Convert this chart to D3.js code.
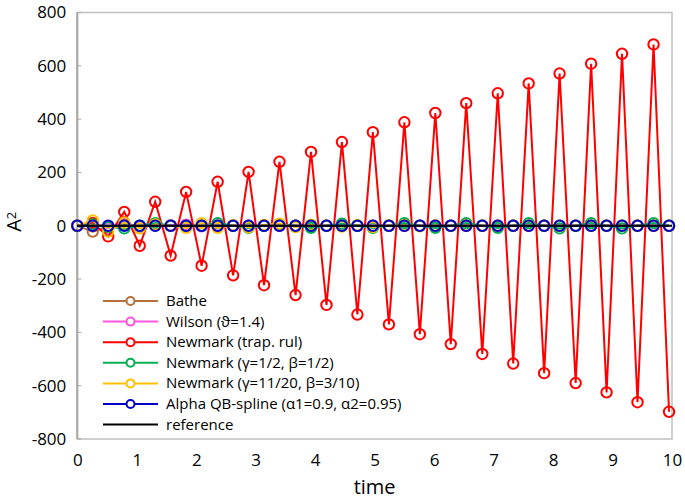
<!DOCTYPE html>
<html><head><meta charset="utf-8">
<script src="https://cdn.jsdelivr.net/npm/d3@7"></script>
<style>body{margin:0;background:#fff}svg{display:block}</style>
</head><body><svg id="c" width="685" height="503"></svg>
<script>
const time = [0,0.26,0.52,0.79,1.05,1.31,1.57,1.83,2.09,2.36,2.62,2.88,3.14,3.40,3.67,3.93,4.19,4.45,4.71,4.97,5.24,5.50,5.76,6.02,6.28,6.54,6.81,7.07,7.33,7.59,7.85,8.11,8.38,8.64,8.90,9.16,9.42,9.69,9.95];
const bathe = [0,-22,-4,3,-1,1,0,0,0,0,0,0,0,0,0,0,0,0,0,0,0,0,0,0,0,0,0,0,0,0,0,0,0,0,0,0,0,0,0];
const wilson = [0,10,-8,10,-4,4,2,4,-2,1,0,0,0,0,0,0,0,0,0,0,0,0,0,0,0,0,0,0,0,0,0,0,0,0,0,0,0,0,0];
const newmarkTrap = [0,10,-40,52,-75,90,-112,127,-150,165,-186,202,-223,240,-260,277,-297,314,-333,351,-370,388,-407,423,-444,460,-481,497,-517,534,-553,571,-590,608,-625,645,-662,680,-698];
const newmarkHalf = [0,5,-5,-10,0,10,0,-3,0,10,0,-8,0,5,0,-8,0,8,0,-8,0,10,0,-8,0,10,0,-8,0,10,0,-10,0,10,0,-10,0,10,0];
const newmark1120 = [0,20,-22,12,-10,5,0,-8,10,-8,2,-6,3,8,-5,4,0,-3,2,-5,1,2,-2,1,-1,1,0,0,0,0,0,0,0,0,0,0,0,0,0];
const alphaQB = [0,0,0,0,0,0,0,0,0,0,0,0,0,0,0,0,0,0,0,0,0,0,0,0,0,0,0,0,0,0,0,0,0,0,0,0,0,0,0];
const refTime = [0,10];
const refVals = [0,0];
const xTicks = [0,1,2,3,4,5,6,7,8,9,10];
const yTicks = [-800,-600,-400,-200,0,200,400,600,800];
const seriesNames = ["Bathe","Wilson (\u03D1=1.4)","Newmark (trap. rul)","Newmark (\u03B3=1/2, \u03B2=1/2)","Newmark (\u03B3=11/20, \u03B2=3/10)","Alpha QB-spline (\u03B11=0.9, \u03B12=0.95)","reference"];
const seriesColors = ["#b5703c","#ff55dd","#ff0000","#00b050","#ffc000","#0000c8","#000000"];

const svg = d3.select("#c");
const x = d3.scaleLinear().domain([0,10]).range([77.3,672]);
const y = d3.scaleLinear().domain([-800,800]).range([439,12.5]);
const font = "'Open Sans', sans-serif";

// plot border
svg.append("rect").attr("x",x(0)).attr("y",y(800)).attr("width",x(10)-x(0)).attr("height",y(-800)-y(800))
  .attr("fill","none").attr("stroke","#c0c0c0").attr("stroke-width",1.5);
svg.append("line").attr("x1",x(0)).attr("x2",x(0)).attr("y1",y(800)).attr("y2",y(-800)).attr("stroke","#a6a6a6").attr("stroke-width",2);

// y axis
const yAx = svg.append("g").attr("transform",`translate(${x(0)},0)`).call(d3.axisLeft(y).tickValues(yTicks).tickFormat(d=>String(d)).tickSize(0).tickPadding(11));
yAx.select(".domain").remove();
yAx.selectAll("text").attr("font-family",font).attr("font-size",17).attr("fill","#000");
svg.selectAll(".ytk").data(yTicks).enter().append("line").attr("x1",x(0)).attr("x2",x(0)+4)
  .attr("y1",d=>y(d)).attr("y2",d=>y(d)).attr("stroke","#a6a6a6").attr("stroke-width",1);

// x axis
const xAx = svg.append("g").attr("transform",`translate(0,${y(-800)})`).call(d3.axisBottom(x).tickValues(xTicks).tickFormat(d=>String(d)).tickSize(0).tickPadding(15));
xAx.select(".domain").remove();
xAx.selectAll("text").attr("font-family",font).attr("font-size",17).attr("fill","#000");

svg.append("text").attr("x",(x(0)+x(10))/2).attr("y",494).attr("text-anchor","middle")
  .attr("font-family",font).attr("font-size",20).text("time");
const yt = svg.append("text").attr("transform",`translate(21,${y(0)-4}) rotate(-90)`).attr("text-anchor","middle")
  .attr("font-family",font).attr("font-size",20);
yt.append("tspan").text("A");
yt.append("tspan").attr("font-size",13).attr("dy",-5).text("2");

const series = [bathe,wilson,newmarkTrap,newmarkHalf,newmark1120,alphaQB];
const line = d3.line().x(d=>x(d[0])).y(d=>y(d[1]));
series.forEach((vals,i)=>{
  const pts = time.map((t,j)=>[t,vals[j]]);
  const g = svg.append("g");
  g.append("path").datum(pts).attr("d",line).attr("fill","none").attr("stroke",seriesColors[i]).attr("stroke-width",2);
  g.selectAll("circle").data(pts).enter().append("circle").attr("cx",d=>x(d[0])).attr("cy",d=>y(d[1])).attr("r",5.2)
    .attr("fill","none").attr("stroke",seriesColors[i]).attr("stroke-width",2);
});
svg.append("path").datum(refTime.map((t,j)=>[t,refVals[j]])).attr("d",line).attr("fill","none").attr("stroke","#000").attr("stroke-width",2.2);

// legend
const lg = svg.append("g");
seriesNames.forEach((n,i)=>{
  const ly = 301 + i*20.6;
  lg.append("line").attr("x1",103).attr("x2",158).attr("y1",ly).attr("y2",ly).attr("stroke",seriesColors[i]).attr("stroke-width",2);
  if(i<6) lg.append("circle").attr("cx",130.5).attr("cy",ly).attr("r",4).attr("fill","#fff").attr("stroke",seriesColors[i]).attr("stroke-width",2);
  lg.append("text").attr("x",166).attr("y",ly+5).attr("font-family",font).attr("font-size",15).text(n);
});
</script></body></html>
